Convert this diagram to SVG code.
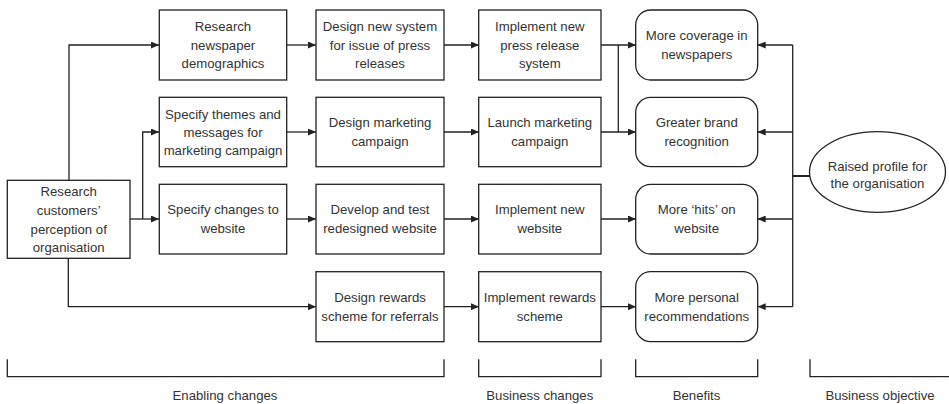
<svg xmlns="http://www.w3.org/2000/svg" width="949" height="404" viewBox="0 0 949 404">
<defs>
<style>
.box{fill:#fff;stroke:#222;stroke-width:1.3}
.ln{fill:none;stroke:#222;stroke-width:1.3}
.ar{fill:none;stroke:#222;stroke-width:1.3;marker-end:url(#ah)}
text{font-family:"Liberation Sans",Arial,sans-serif;font-size:13.2px;fill:#333;text-anchor:middle}
</style>
<marker id="ah" viewBox="0 0 8 7" refX="8" refY="3.5" markerWidth="8" markerHeight="7" markerUnits="userSpaceOnUse" orient="auto">
<path d="M0,0 L8,3.5 L0,7 z" fill="#222"/>
</marker>
</defs>
<rect width="949" height="404" fill="#fff"/>

<g id="connectors">
<path class="ar" d="M69,180 V45 H159"/>
<path class="ar" d="M130,219 H159"/>
<path class="ar" d="M142.7,219 V132 H159"/>
<path class="ar" d="M68.3,258 V306.7 H316"/>
<path class="ar" d="M287,45 H316"/>
<path class="ar" d="M287,132 H316"/>
<path class="ar" d="M287,219 H316"/>
<path class="ar" d="M444,45 H479"/>
<path class="ar" d="M444,132 H479"/>
<path class="ar" d="M444,219 H479"/>
<path class="ar" d="M444,306.7 H479"/>
<path class="ar" d="M601,45 H636"/>
<path class="ar" d="M601,132 H636"/>
<path class="ln" d="M618.3,45 V132"/>
<path class="ar" d="M601,219 H636"/>
<path class="ar" d="M601,306.7 H636"/>
<path class="ln" d="M792.7,45 V306.7"/>
<path class="ar" d="M792.7,45 H757.7"/>
<path class="ar" d="M792.7,132 H757.7"/>
<path class="ar" d="M792.7,219 H757.7"/>
<path class="ar" d="M792.7,306.7 H757.7"/>
<path class="ln" d="M810,176 H792.7" style="stroke-width:2"/>
</g>

<g id="n-research-customers">
<rect class="box" x="7.3" y="180.3" width="122.7" height="78"/>
<text x="68.7" y="196.3">Research</text>
<text x="68.7" y="215">customers’</text>
<text x="68.7" y="233.7">perception of</text>
<text x="68.7" y="252.4">organisation</text>
</g>

<g id="n-research-newspaper">
<rect class="box" x="159.3" y="10" width="127.4" height="70"/>
<text x="223" y="31.4">Research</text>
<text x="223" y="49.7">newspaper</text>
<text x="223" y="68">demographics</text>
</g>
<g id="n-specify-themes">
<rect class="box" x="159.3" y="97.3" width="127.4" height="69.4"/>
<text x="223" y="118.6">Specify themes and</text>
<text x="223" y="136.9">messages for</text>
<text x="223" y="155.2">marketing campaign</text>
</g>
<g id="n-specify-changes">
<rect class="box" x="159.3" y="184.3" width="127.4" height="69.7"/>
<text x="223" y="214.3">Specify changes to</text>
<text x="223" y="233">website</text>
</g>

<g id="n-design-system">
<rect class="box" x="316" y="10" width="128" height="70"/>
<text x="380" y="31.4">Design new system</text>
<text x="380" y="49.7">for issue of press</text>
<text x="380" y="68">releases</text>
</g>
<g id="n-design-marketing">
<rect class="box" x="316" y="97.3" width="128" height="69.4"/>
<text x="380" y="127.4">Design marketing</text>
<text x="380" y="146.3">campaign</text>
</g>
<g id="n-develop-website">
<rect class="box" x="316" y="184.3" width="128" height="69.7"/>
<text x="380" y="214.3">Develop and test</text>
<text x="380" y="233">redesigned website</text>
</g>
<g id="n-design-rewards">
<rect class="box" x="316" y="271.7" width="128" height="70"/>
<text x="380" y="301.7">Design rewards</text>
<text x="380" y="320.6">scheme for referrals</text>
</g>

<g id="n-implement-press">
<rect class="box" x="478.7" y="10" width="122.3" height="70"/>
<text x="539.8" y="31.4">Implement new</text>
<text x="539.8" y="49.7">press release</text>
<text x="539.8" y="68">system</text>
</g>
<g id="n-launch-marketing">
<rect class="box" x="478.7" y="97.3" width="122.3" height="69.4"/>
<text x="539.8" y="127.4">Launch marketing</text>
<text x="539.8" y="146.3">campaign</text>
</g>
<g id="n-implement-website">
<rect class="box" x="478.7" y="184.3" width="122.3" height="69.7"/>
<text x="539.8" y="214.3">Implement new</text>
<text x="539.8" y="233">website</text>
</g>
<g id="n-implement-rewards">
<rect class="box" x="478.7" y="271.7" width="122.3" height="70"/>
<text x="539.8" y="301.7">Implement rewards</text>
<text x="539.8" y="320.6">scheme</text>
</g>

<g id="n-coverage">
<rect class="box" x="635.7" y="10" width="122" height="70" rx="15" ry="15"/>
<text x="696.7" y="40.3">More coverage in</text>
<text x="696.7" y="59.2">newspapers</text>
</g>
<g id="n-brand">
<rect class="box" x="635.7" y="97.3" width="122" height="69.4" rx="15" ry="15"/>
<text x="696.7" y="127.4">Greater brand</text>
<text x="696.7" y="146.3">recognition</text>
</g>
<g id="n-hits">
<rect class="box" x="635.7" y="184.3" width="122" height="69.7" rx="15" ry="15"/>
<text x="696.7" y="214.3">More ‘hits’ on</text>
<text x="696.7" y="233">website</text>
</g>
<g id="n-recommendations">
<rect class="box" x="635.7" y="271.7" width="122" height="70" rx="15" ry="15"/>
<text x="696.7" y="301.7">More personal</text>
<text x="696.7" y="320.6">recommendations</text>
</g>

<g id="n-objective">
<ellipse class="box" cx="877.5" cy="172" rx="68" ry="40.3"/>
<text x="877.5" y="170.6">Raised profile for</text>
<text x="877.5" y="188">the organisation</text>
</g>

<g id="brackets">
<path class="ln" d="M7.3,359.3 V376.7 H444 V359.3"/>
<path class="ln" d="M478.7,359.3 V376.7 H601 V359.3"/>
<path class="ln" d="M635.7,359.3 V376.7 H757.7 V359.3"/>
<path class="ln" d="M810,359.3 V376.7 H949"/>
<text x="225" y="399.5">Enabling changes</text>
<text x="539.8" y="399.5">Business changes</text>
<text x="696.5" y="399.5">Benefits</text>
<text x="880" y="399.5">Business objective</text>
</g>
</svg>
